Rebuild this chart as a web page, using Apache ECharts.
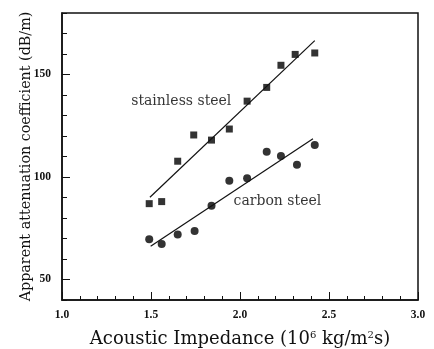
<!DOCTYPE html>
<html><head><meta charset="utf-8">
<script src="https://cdn.jsdelivr.net/npm/echarts@6/dist/echarts.min.js"></script>
<style>html,body{margin:0;padding:0;background:#fff}#c{width:434px;height:349px}</style>
</head><body><div id="c"></div>
<script>
// Data
const stainlessX = [1.49, 1.56, 1.65, 1.74, 1.84, 1.94, 2.04, 2.15, 2.23, 2.31, 2.42];
const stainlessY = [87, 88, 107.7, 120.5, 118, 123.4, 137, 143.7, 154.5, 159.8, 160.5];
const carbonX = [1.49, 1.56, 1.65, 1.745, 1.84, 1.94, 2.04, 2.15, 2.23, 2.32, 2.42];
const carbonY = [69.6, 67.3, 72, 73.7, 86, 98.2, 99.4, 112.3, 110.2, 106, 115.6];
const stainlessFit = [[1.494, 90.1], [2.42, 166.5]];
const carbonFit = [[1.498, 66.2], [2.41, 118.7]];
const yLabels = [50, 100, 150];
const annotations = [
  { name: 'stainless steel', value: [1.67, 137] },
  { name: 'carbon steel', value: [2.21, 88.3] }
];

const zip = (xs, ys) => xs.map((x, i) => [x, ys[i]]);
const serif = '"DejaVu Serif", "Liberation Serif", serif';
const tickFont = '"Liberation Serif", serif';
const ink = '#111';

const chart = echarts.init(document.getElementById('c'), null, { renderer: 'canvas' });
chart.setOption({
  animation: false,
  backgroundColor: '#fff',
  grid: { left: 62, right: 16, top: 13, bottom: 49, containLabel: false, outerBoundsMode: 'none',
    show: true, borderColor: ink, borderWidth: 1.5, backgroundColor: 'transparent' },
  xAxis: {
    type: 'value', min: 1.0, max: 3.0, interval: 0.5,
    axisLine: { show: true, lineStyle: { color: ink, width: 1.5 } },
    axisTick: { show: true, inside: true, length: 8, lineStyle: { color: ink, width: 1 } },
    minorTick: { show: true, splitNumber: 5, length: 4, lineStyle: { color: ink, width: 1 } },
    splitLine: { show: false },
    axisLabel: { margin: 9, color: ink, fontFamily: tickFont, fontWeight: 'bold', fontSize: 11.5, formatter: v => v.toFixed(1) },
    name: '{a|Acoustic Impedance (10}{s|6}{a| kg/m}{s|2}{a|s)}',
    nameLocation: 'middle', nameGap: 30, nameMoveOverlap: false,
    nameTextStyle: { rich: {
      a: { fontFamily: serif, fontSize: 18, color: ink },
      s: { fontFamily: serif, fontSize: 10, color: ink, verticalAlign: 'top', padding: [0, 0, 9, 0] }
    } }
  },
  yAxis: [{
    type: 'value', min: 40, max: 180, interval: 10,
    axisLine: { show: true, lineStyle: { color: ink, width: 1.5 } },
    axisTick: { show: true, inside: true, length: 5, lineStyle: { color: ink, width: 1 } },
    splitLine: { show: false },
    axisLabel: { margin: 11, color: ink, fontFamily: tickFont, fontWeight: 'bold', fontSize: 11.5,
      formatter: v => yLabels.indexOf(v) >= 0 ? String(v) : '' },
    name: 'Apparent attenuation coefficient (dB/m)',
    nameLocation: 'middle', nameGap: 29, nameRotate: 90, nameMoveOverlap: false,
    nameTextStyle: { fontFamily: serif, fontSize: 14.3, color: ink }
  }, {
    type: 'value', min: 40, max: 180, position: 'left', offset: 0,
    axisLine: { show: false },
    axisTick: { show: true, inside: true, length: 8, customValues: yLabels, lineStyle: { color: ink, width: 1 } },
    axisLabel: { show: false },
    splitLine: { show: false }
  }],
  series: [
    { type: 'scatter', data: zip(stainlessX, stainlessY), symbol: 'rect', symbolSize: 7, itemStyle: { color: '#000' } },
    { type: 'scatter', data: zip(carbonX, carbonY), symbol: 'circle', symbolSize: 8, itemStyle: { color: '#000' } },
    { type: 'line', data: stainlessFit, symbol: 'none', lineStyle: { color: ink, width: 1.2 } },
    { type: 'line', data: carbonFit, symbol: 'none', lineStyle: { color: ink, width: 1.2 } },
    { type: 'scatter', data: annotations, symbolSize: 0,
      label: { show: true, position: 'inside', formatter: p => p.name, fontFamily: serif, fontSize: 14, color: '#000' } }
  ]
});
</script>
</body></html>
